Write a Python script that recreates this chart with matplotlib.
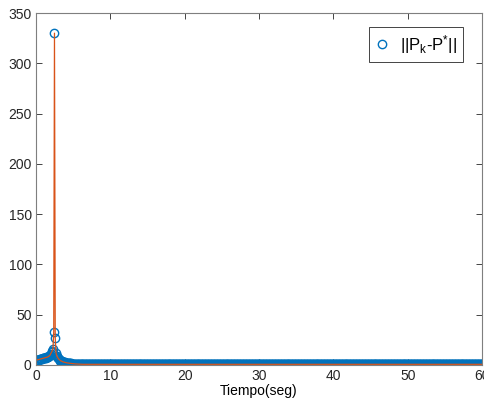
import numpy as np
import matplotlib.pyplot as plt

plt.rcParams['font.family'] = ['Liberation Sans', 'DejaVu Sans']
plt.rcParams['mathtext.fontset'] = 'custom'
plt.rcParams['mathtext.rm'] = 'Liberation Sans'
plt.rcParams['mathtext.it'] = 'Liberation Sans'

# tiempo de muestreo 0.1 s, 0..60 s
dt = 0.1
# transitorio (0 .. 6.1 s)
transient = [4.5, 4.7, 4.9, 5.1, 5.3, 5.5, 5.7, 5.9, 6.1, 6.3,
             6.5, 6.7, 6.9, 7.1, 7.3, 7.6, 7.9, 8.3, 8.9, 9.6,
             11.0, 12.5, 14.0, 16.0, 33.0, 330.0, 27.0, 12.0, 9.0, 7.5,
             6.5, 5.5, 4.8, 4.2, 3.8, 3.4, 3.1, 2.8, 2.6, 2.4,
             2.2, 2.0, 1.9, 1.8, 1.7, 1.6, 1.5, 1.4, 1.3, 1.2,
             1.1, 1.0, 0.95, 0.9, 0.85, 0.8, 0.75, 0.7, 0.65, 0.6,
             0.55, 0.5]
# resto practicamente constante
tail_level = 0.5
n_total = 601

values = transient + [tail_level] * (n_total - len(transient))
t = np.arange(n_total) * dt

fig = plt.figure(figsize=(4.85, 4.09), dpi=100)
ax = fig.add_axes([0.074, 0.108, 0.920, 0.860])

ax.plot(t, values, 'o', color='#0072BD', markerfacecolor='none',
        markersize=6, markeredgewidth=1.0, label=r'||P$_\mathregular{k}$-P$^\mathregular{*}$||')
ax.plot(t, values, '-', color='#D95319', linewidth=0.9)

ax.set_xlim(0, 60)
ax.set_ylim(0, 350)
ax.set_xticks(range(0, 61, 10))
ax.set_yticks(range(0, 351, 50))
ax.set_xlabel('Tiempo(seg)', fontsize=10, labelpad=1)

ax.tick_params(direction='in', top=True, right=True, labelsize=10,
               colors='#262626', length=4, width=0.6, pad=3)
for s in ax.spines.values():
    s.set_color('#7f7f7f')
    s.set_linewidth(0.8)

leg = ax.legend(loc='upper right', fontsize=12, fancybox=False,
                edgecolor='#262626', framealpha=1, handlelength=0.8,
                handletextpad=0.7, borderpad=0.35, borderaxespad=0,
                bbox_to_anchor=(0.957, 0.96))
leg.get_frame().set_linewidth(0.6)

fig.savefig('out.png', dpi=100)
